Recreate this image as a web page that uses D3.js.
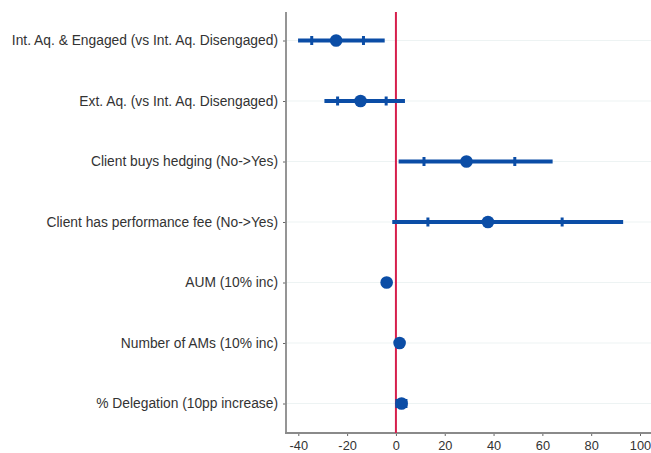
<!DOCTYPE html>
<html>
<head>
<meta charset="utf-8">
<script src="https://cdn.jsdelivr.net/npm/d3@7"></script>
<style>
  html, body { margin: 0; padding: 0; background: #fff; }
  svg { display: block; }
</style>
</head>
<body>
<svg id="chart" width="651" height="453"></svg>
<script>
// Coefficient estimates with two confidence bands per term
const terms = [
  "Int. Aq. & Engaged (vs Int. Aq. Disengaged)",
  "Ext. Aq. (vs Int. Aq. Disengaged)",
  "Client buys hedging (No->Yes)",
  "Client has performance fee (No->Yes)",
  "AUM (10% inc)",
  "Number of AMs (10% inc)",
  "% Delegation (10pp increase)"
];
const estimate = [-24.5, -14.5, 28.9, 37.7, -3.8, 1.5, 2.3];
const outerLow  = [-40.1, -29.3, 1.1, -1.5, -4.4, 1.1, 0.0];
const outerHigh = [-4.6, 3.7, 64.2, 93.1, -3.2, 1.9, 4.6];
const innerLow  = [-34.5, -23.9, 11.5, 13.1, -4.2, 1.2, 0.4];
const innerHigh = [-13.3, -4.0, 48.7, 68.1, -3.4, 1.8, 4.1];
const xTicks = [-40, -20, 0, 20, 40, 60, 80, 100];

const svg = d3.select("#chart");
const W = 651, H = 453;
const axisX = 286, axisTop = 12, axisBottom = 433;

const x = d3.scaleLinear().domain([-40, 100]).range([298.3, 640]);
const y = d3.scalePoint().domain(terms).range([40.5, 403.5]);

const blue = "#0b4da6";
const font = "'Liberation Sans', Arial, sans-serif";

// horizontal gridlines
svg.append("g").selectAll("line").data(terms).join("line")
  .attr("x1", axisX).attr("x2", W)
  .attr("y1", d => y(d)).attr("y2", d => y(d))
  .attr("stroke", "#edf3f3").attr("stroke-width", 1.2);

// y axis
const yAxis = svg.append("g").attr("transform", `translate(${axisX},0)`)
  .call(d3.axisLeft(y).tickSize(3).tickPadding(5));
yAxis.select(".domain").remove();
yAxis.selectAll(".tick line").attr("stroke", "#666");
yAxis.selectAll(".tick text").attr("fill", "#333")
  .style("font-family", font).style("font-size", "13.8px");
svg.append("line").attr("x1", axisX).attr("x2", axisX)
  .attr("y1", axisTop).attr("y2", axisBottom)
  .attr("stroke", "#8a8a8a").attr("stroke-width", 1.8);

// x axis
const xAxis = svg.append("g").attr("transform", `translate(0,${axisBottom})`)
  .call(d3.axisBottom(x).tickValues(xTicks).tickSize(3).tickPadding(0)
    .tickFormat(d => String(d)));
xAxis.select(".domain").remove();
xAxis.selectAll(".tick line").attr("stroke", "#666");
xAxis.selectAll(".tick text").attr("fill", "#333")
  .attr("y", 16.5).attr("dy", null)
  .style("font-family", font).style("font-size", "12.8px");
svg.append("line").attr("x1", axisX - 1).attr("x2", W)
  .attr("y1", axisBottom).attr("y2", axisBottom)
  .attr("stroke", "#8a8a8a").attr("stroke-width", 1.8);

// reference line at zero
svg.append("line")
  .attr("x1", x(0)).attr("x2", x(0))
  .attr("y1", axisTop).attr("y2", axisBottom)
  .attr("stroke", "#d61f4c").attr("stroke-width", 2);

const rows = terms.map((t, i) => ({
  t, est: estimate[i], lo: outerLow[i], hi: outerHigh[i], ilo: innerLow[i], ihi: innerHigh[i]
}));

const g = svg.append("g");
// outer interval
g.selectAll("line.ci").data(rows).join("line").attr("class", "ci")
  .attr("x1", d => x(d.lo)).attr("x2", d => x(d.hi))
  .attr("y1", d => y(d.t)).attr("y2", d => y(d.t))
  .attr("stroke", blue).attr("stroke-width", 4);
// inner interval end markers
["ilo", "ihi"].forEach(k => {
  g.selectAll("line." + k).data(rows).join("line").attr("class", k)
    .attr("x1", d => x(d[k])).attr("x2", d => x(d[k]))
    .attr("y1", d => y(d.t) - 4.5).attr("y2", d => y(d.t) + 4.5)
    .attr("stroke", blue).attr("stroke-width", 3);
});
// point estimates
g.selectAll("circle").data(rows).join("circle")
  .attr("cx", d => x(d.est)).attr("cy", d => y(d.t))
  .attr("r", 6.3).attr("fill", blue);
</script>
</body>
</html>
